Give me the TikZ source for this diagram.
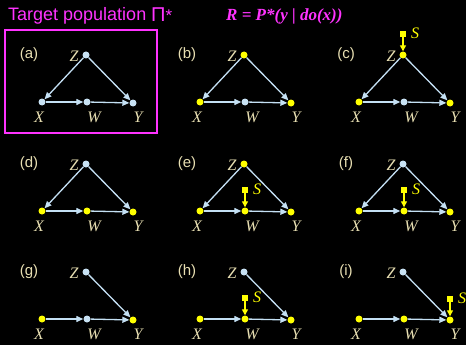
\documentclass[tikz,border=0pt]{standalone}
\usepackage{fontspec}
\setmainfont{Liberation Serif}
\setsansfont{Liberation Sans}
\usetikzlibrary{arrows.meta}
\definecolor{edgeblue}{HTML}{C4E0F4}
\definecolor{nodeblue}{HTML}{C8E2F4}
\definecolor{dotyellow}{HTML}{FFFF00}
\definecolor{labcream}{HTML}{E8DFB2}
\definecolor{mag}{HTML}{FF33FF}
\tikzset{
  vb/.style={circle, fill=nodeblue, inner sep=0pt, minimum size=7pt},
  vy/.style={circle, fill=dotyellow, inner sep=0pt, minimum size=7pt},
  lab/.style={text=labcream, inner sep=0pt, font=\itshape\fontsize{16}{16}\selectfont},
  tagl/.style={text=labcream, inner sep=0pt, font=\sffamily\fontsize{15}{15}\selectfont},
  edg/.style={draw=edgeblue, line width=1.3pt, -{Triangle[length=7pt,width=6pt]}},
  sq/.style={rectangle, fill=dotyellow, inner sep=0pt, minimum size=6.5pt},
  slab/.style={text=dotyellow, inner sep=0pt, font=\itshape\fontsize{16}{16}\selectfont},
  sarrow/.style={draw=dotyellow, line width=1.3pt, -{Triangle[length=6pt,width=6pt]}}
}
\newcommand\dagnodes[7]{%
  \begin{scope}[shift={#2}]
    \node[#4] (#1Z) at (44,-47) {};
    \node[#5] (#1X) at (0,0) {};
    \node[#6] (#1W) at (45,0) {};
    \node[#7] (#1Y) at (91,1) {};
    \node[lab] (#1Zl) at (32,-46) {Z};
    \node[lab] (#1Xl) at (-3,15.5) {X};
    \node[lab] (#1Wl) at (52,15.5) {W};
    \node[lab] (#1Yl) at (96,15.5) {Y};
    \node[tagl] (#1t) at (-13,-47) {(#3)};
  \end{scope}}
\newcommand\selS{}
\renewcommand\selS[2]{%
  \node[sq] (#1S) at ([yshift=21pt]#2.center) {};
  \node[slab] (#1Sl) at ([xshift=12pt,yshift=22pt]#2.center) {S};
  \draw[sarrow] (#1S) -- (#2);}
\begin{document}
\begin{tikzpicture}[x=1pt,y=-1pt]
\fill[black] (0,0) rectangle (466,345);
\useasboundingbox (0,0) rectangle (466,345);
% title
\node[anchor=base west, inner sep=0pt, text=mag, font=\sffamily\fontsize{18}{18}\selectfont] (title) at (8,21) {Target population};
\node[anchor=base west, inner sep=0pt, text=mag, font=\sffamily\fontsize{20}{20}\selectfont] (pi) at (151,21.5) {Π\fontsize{17}{17}\selectfont*};
\node[anchor=base west, inner sep=0pt, text=mag, font=\bfseries\itshape\fontsize{17}{17}\selectfont] (query) at (226,21) {R = P*(y | do(x))};
\draw[mag, line width=2.2pt] (5,30) rectangle (157,133);
% (a)
\dagnodes{a}{(42,102)}{a}{vb}{vb}{vb}{vb}
\draw[edg] (aZ) -- (aX); \draw[edg] (aZ) -- (aY); \draw[edg] (aX) -- (aW); \draw[edg] (aW) -- (aY);
% (b)
\dagnodes{b}{(200,102)}{b}{vy}{vy}{vb}{vy}
\draw[edg] (bZ) -- (bX); \draw[edg] (bZ) -- (bY); \draw[edg] (bX) -- (bW); \draw[edg] (bW) -- (bY);
% (c)
\dagnodes{c}{(359,102)}{c}{vy}{vy}{vb}{vy}
\draw[edg] (cZ) -- (cX); \draw[edg] (cZ) -- (cY); \draw[edg] (cX) -- (cW); \draw[edg] (cW) -- (cY);
\selS{c}{cZ}
% (d)
\dagnodes{d}{(42,211)}{d}{vb}{vy}{vy}{vy}
\draw[edg] (dZ) -- (dX); \draw[edg] (dZ) -- (dY); \draw[edg] (dX) -- (dW); \draw[edg] (dW) -- (dY);
% (e)
\dagnodes{e}{(200,211)}{e}{vy}{vy}{vy}{vy}
\draw[edg] (eZ) -- (eX); \draw[edg] (eZ) -- (eY); \draw[edg] (eX) -- (eW); \draw[edg] (eW) -- (eY);
\selS{e}{eW}
% (f)
\dagnodes{f}{(359,211)}{f}{vb}{vy}{vy}{vy}
\draw[edg] (fZ) -- (fX); \draw[edg] (fZ) -- (fY); \draw[edg] (fX) -- (fW); \draw[edg] (fW) -- (fY);
\selS{f}{fW}
% (g)
\dagnodes{g}{(42,319)}{g}{vb}{vy}{vb}{vy}
\draw[edg] (gZ) -- (gY); \draw[edg] (gX) -- (gW); \draw[edg] (gW) -- (gY);
% (h)
\dagnodes{h}{(200,319)}{h}{vb}{vy}{vy}{vy}
\draw[edg] (hZ) -- (hY); \draw[edg] (hX) -- (hW); \draw[edg] (hW) -- (hY);
\selS{h}{hW}
% (i)
\dagnodes{i}{(359,319)}{i}{vb}{vy}{vy}{vy}
\draw[edg] (iZ) -- (iY); \draw[edg] (iX) -- (iW); \draw[edg] (iW) -- (iY);
\selS{i}{iY}
\end{tikzpicture}
\end{document}
